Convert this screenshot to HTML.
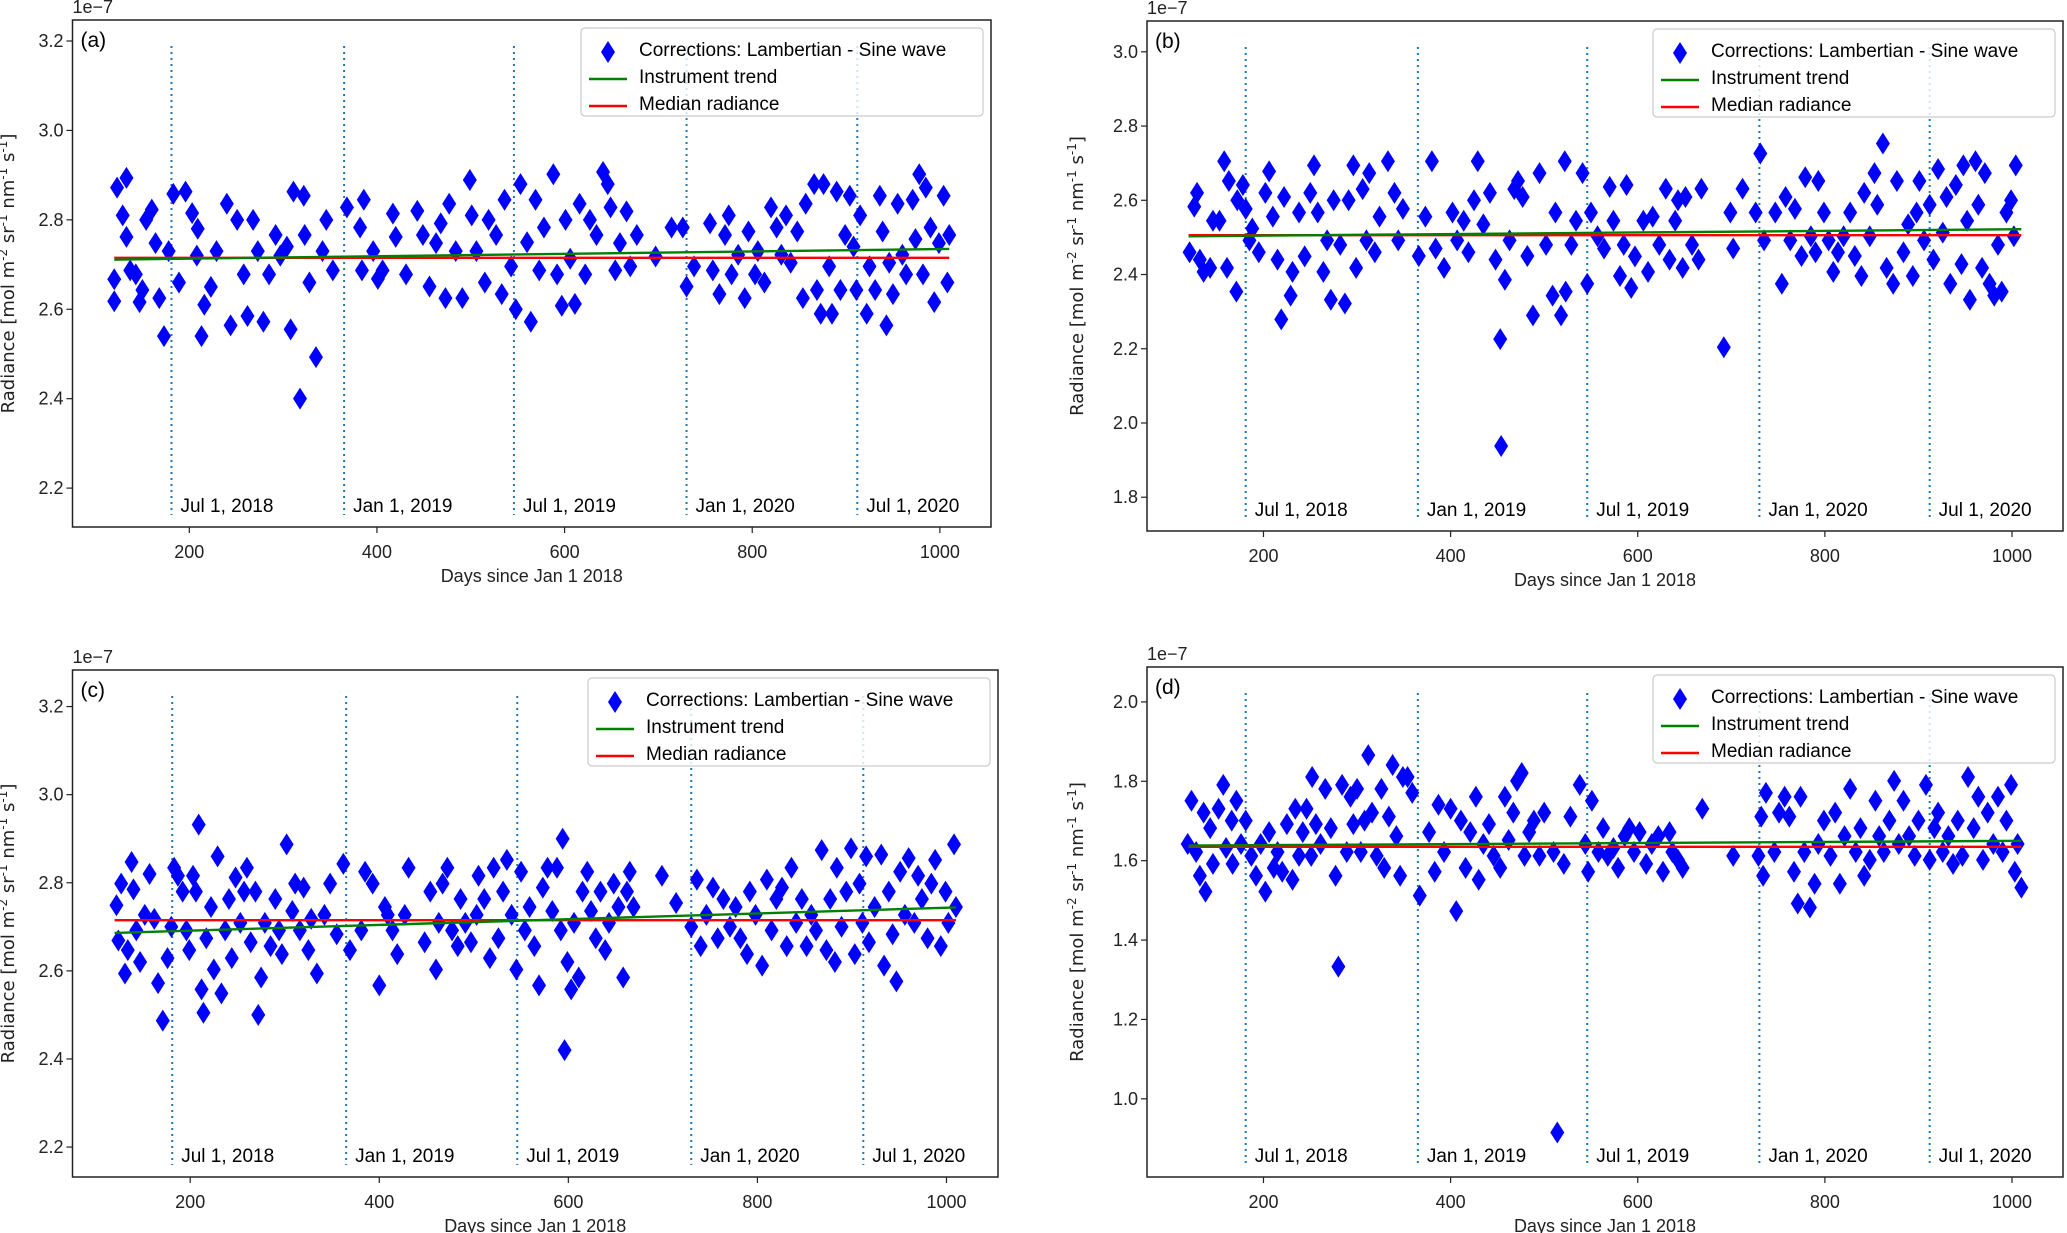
<!DOCTYPE html>
<html><head><meta charset="utf-8"><style>
html,body{margin:0;padding:0;background:#fff;}
svg{display:block;font-family:"Liberation Sans","DejaVu Sans",sans-serif;}
</style></head><body>
<svg id="fig" width="2067" height="1233" viewBox="0 0 2067 1233" xmlns="http://www.w3.org/2000/svg"></svg>
<script>
const xTicks=[200,400,600,800,1000];
const markerDays=[181,365,546,730,912];
const markerLabels=["Jul 1, 2018","Jan 1, 2019","Jul 1, 2019","Jan 1, 2020","Jul 1, 2020"];
const yTicksA=[2.2,2.4,2.6,2.8,3.0,3.2];
const yTicksB=[1.8,2.0,2.2,2.4,2.6,2.8,3.0];
const yTicksC=[2.2,2.4,2.6,2.8,3.0,3.2];
const yTicksD=[1.0,1.2,1.4,1.6,1.8,2.0];
const trendA=[2.711,2.735], medianA=[2.715,2.715];
const trendB=[2.503,2.522], medianB=[2.506,2.506];
const trendC=[2.686,2.744], medianC=[2.715,2.715];
const trendD=[1.638,1.650], medianD=[1.635,1.635];
const daysA=[120,120,123,133,129,133,137,143,147,150,154,160,164,168,173,178,183,189,196,203,208,209,216,213,223,229,240,244,251,258,262,268,273,279,285,292,297,304,308,311,318,322,323,328,335,342,346,353,368,382,384,386,396,401,406,417,420,431,443,449,456,463,468,473,477,484,491,499,501,506,515,519,527,533,536,543,548,553,560,564,569,573,578,588,592,597,601,606,611,616,622,627,634,641,646,649,654,659,666,670,677,697,714,726,730,738,755,758,765,771,775,778,785,792,796,803,806,813,820,826,831,836,841,848,854,857,866,869,873,876,882,885,890,894,899,904,908,911,915,922,925,931,936,939,943,946,950,955,960,964,971,974,978,982,985,990,994,999,1004,1008,1010];
const valsA=[2.667,2.618,2.872,2.894,2.81,2.762,2.687,2.678,2.616,2.643,2.80,2.823,2.748,2.625,2.54,2.73,2.858,2.66,2.863,2.815,2.72,2.78,2.61,2.54,2.65,2.73,2.836,2.564,2.80,2.678,2.585,2.80,2.73,2.572,2.678,2.766,2.72,2.74,2.555,2.863,2.40,2.854,2.766,2.66,2.493,2.73,2.80,2.687,2.828,2.783,2.687,2.845,2.73,2.668,2.687,2.814,2.762,2.678,2.82,2.766,2.651,2.748,2.792,2.625,2.836,2.73,2.625,2.889,2.81,2.73,2.66,2.80,2.766,2.634,2.845,2.696,2.60,2.88,2.75,2.572,2.845,2.687,2.783,2.902,2.678,2.608,2.80,2.713,2.612,2.836,2.678,2.80,2.766,2.907,2.88,2.828,2.687,2.748,2.819,2.696,2.766,2.718,2.783,2.783,2.651,2.696,2.792,2.687,2.634,2.766,2.81,2.678,2.722,2.625,2.774,2.678,2.73,2.66,2.828,2.783,2.722,2.81,2.704,2.774,2.625,2.836,2.88,2.643,2.59,2.88,2.696,2.59,2.863,2.643,2.766,2.854,2.74,2.643,2.81,2.59,2.696,2.643,2.854,2.774,2.564,2.704,2.634,2.836,2.722,2.678,2.845,2.757,2.902,2.678,2.872,2.783,2.616,2.748,2.854,2.66,2.766];
const daysB=[121,126,129,132,136,143,146,153,158,161,163,171,172,178,181,185,188,195,202,206,210,215,219,222,229,231,238,244,250,254,258,264,268,272,275,282,287,291,296,299,306,310,313,319,324,333,340,344,349,366,373,380,384,393,402,407,414,419,425,429,435,442,448,453,454,458,463,468,472,477,482,488,495,502,509,512,518,522,523,529,534,541,546,550,557,564,570,574,581,585,588,593,597,606,611,616,623,630,634,640,643,648,651,658,665,668,692,699,702,712,726,731,735,747,754,758,763,768,775,779,785,790,793,799,804,809,814,820,827,832,839,842,848,853,856,862,866,873,877,884,889,894,898,901,906,912,916,921,926,930,934,940,946,948,952,955,961,964,968,971,976,981,985,989,994,999,1002,1004];
const valsB=[2.46,2.583,2.62,2.44,2.407,2.418,2.545,2.545,2.705,2.418,2.652,2.354,2.6,2.641,2.577,2.492,2.524,2.46,2.62,2.678,2.556,2.44,2.279,2.609,2.343,2.407,2.567,2.449,2.62,2.694,2.567,2.407,2.492,2.332,2.6,2.48,2.322,2.6,2.694,2.418,2.63,2.492,2.673,2.46,2.556,2.705,2.62,2.492,2.577,2.45,2.556,2.705,2.47,2.418,2.567,2.492,2.545,2.46,2.6,2.705,2.535,2.62,2.44,2.226,1.938,2.386,2.492,2.63,2.652,2.609,2.45,2.29,2.673,2.48,2.343,2.567,2.29,2.705,2.354,2.48,2.545,2.673,2.375,2.567,2.503,2.47,2.636,2.545,2.396,2.48,2.641,2.364,2.449,2.545,2.407,2.556,2.48,2.631,2.44,2.545,2.6,2.418,2.609,2.48,2.44,2.631,2.204,2.567,2.47,2.631,2.567,2.726,2.492,2.567,2.375,2.609,2.492,2.577,2.45,2.662,2.503,2.46,2.652,2.567,2.492,2.407,2.46,2.503,2.567,2.45,2.396,2.62,2.503,2.673,2.588,2.753,2.418,2.375,2.652,2.46,2.535,2.396,2.567,2.652,2.492,2.588,2.44,2.684,2.513,2.609,2.375,2.641,2.428,2.694,2.545,2.332,2.705,2.588,2.418,2.673,2.375,2.343,2.48,2.354,2.567,2.6,2.503,2.694];
const daysC=[122,124,127,131,134,138,140,143,147,152,157,162,166,171,176,180,183,187,192,196,199,203,206,209,212,214,217,222,225,229,233,237,241,244,248,253,257,260,264,269,272,275,279,285,290,294,297,302,308,311,316,320,325,328,334,342,348,355,362,369,381,385,393,400,406,409,414,419,427,431,448,454,460,463,467,472,477,483,486,491,497,503,505,511,517,521,526,531,535,540,545,550,554,559,564,569,573,578,583,588,592,594,596,599,603,606,611,615,620,624,629,634,639,643,648,653,658,662,665,669,699,714,730,736,740,746,753,758,764,771,777,782,789,792,798,805,810,815,820,826,831,836,841,847,852,857,862,868,873,877,882,884,889,894,899,903,908,911,915,918,924,931,934,939,943,947,951,956,960,966,970,974,980,984,988,994,999,1002,1008,1010];
const valsC=[2.749,2.669,2.798,2.594,2.647,2.847,2.785,2.692,2.62,2.727,2.82,2.718,2.572,2.487,2.629,2.70,2.834,2.816,2.78,2.692,2.647,2.816,2.78,2.932,2.558,2.505,2.674,2.745,2.603,2.86,2.549,2.692,2.763,2.629,2.812,2.709,2.78,2.834,2.665,2.78,2.50,2.585,2.709,2.656,2.763,2.692,2.638,2.887,2.736,2.798,2.692,2.789,2.647,2.718,2.594,2.727,2.798,2.683,2.843,2.647,2.692,2.825,2.798,2.567,2.745,2.727,2.692,2.638,2.727,2.834,2.665,2.78,2.603,2.709,2.798,2.834,2.692,2.656,2.763,2.709,2.665,2.727,2.816,2.763,2.629,2.834,2.674,2.78,2.852,2.727,2.603,2.825,2.692,2.745,2.656,2.567,2.789,2.834,2.736,2.834,2.692,2.90,2.42,2.62,2.558,2.709,2.585,2.78,2.825,2.736,2.674,2.78,2.647,2.709,2.798,2.745,2.585,2.78,2.825,2.745,2.816,2.754,2.70,2.807,2.656,2.727,2.789,2.674,2.763,2.70,2.745,2.674,2.638,2.78,2.727,2.612,2.807,2.692,2.763,2.789,2.656,2.834,2.709,2.763,2.656,2.727,2.692,2.874,2.647,2.763,2.62,2.834,2.70,2.78,2.878,2.638,2.798,2.709,2.86,2.665,2.745,2.864,2.612,2.78,2.683,2.576,2.825,2.727,2.856,2.709,2.816,2.763,2.674,2.798,2.852,2.656,2.78,2.709,2.887,2.745];
const daysD=[119,123,128,132,136,138,143,146,152,157,160,166,167,171,176,181,187,192,197,202,206,211,215,220,225,231,234,238,242,246,251,252,256,261,266,272,277,280,284,289,293,296,300,304,308,312,316,321,326,329,334,338,342,346,349,354,359,367,377,383,387,393,400,406,411,416,421,427,430,435,441,446,453,458,462,467,471,476,479,484,489,495,500,510,514,521,528,538,544,547,551,558,563,568,574,579,586,591,596,602,609,615,622,627,634,637,643,648,669,702,729,732,734,737,746,751,757,762,767,771,774,778,784,789,793,799,806,811,816,821,827,833,838,842,848,854,858,863,869,874,879,884,890,896,900,908,912,917,921,926,932,937,942,947,953,959,964,969,974,980,985,990,994,999,1003,1006,1010];
const valsD=[1.642,1.751,1.622,1.562,1.721,1.522,1.682,1.592,1.731,1.791,1.632,1.701,1.592,1.751,1.642,1.701,1.612,1.562,1.642,1.522,1.672,1.582,1.622,1.572,1.692,1.552,1.731,1.612,1.672,1.731,1.612,1.811,1.692,1.642,1.781,1.682,1.562,1.333,1.791,1.622,1.761,1.692,1.781,1.622,1.701,1.866,1.721,1.612,1.781,1.582,1.711,1.841,1.662,1.562,1.811,1.811,1.771,1.512,1.672,1.572,1.741,1.622,1.731,1.473,1.701,1.582,1.672,1.761,1.552,1.642,1.692,1.612,1.582,1.761,1.652,1.721,1.801,1.821,1.612,1.672,1.701,1.612,1.721,1.622,0.915,1.592,1.711,1.791,1.642,1.572,1.751,1.622,1.682,1.612,1.632,1.582,1.662,1.682,1.622,1.672,1.592,1.642,1.662,1.572,1.672,1.622,1.602,1.582,1.731,1.612,1.612,1.711,1.562,1.771,1.622,1.721,1.761,1.711,1.572,1.492,1.761,1.622,1.482,1.542,1.642,1.701,1.612,1.721,1.542,1.662,1.781,1.622,1.682,1.562,1.602,1.751,1.662,1.622,1.701,1.801,1.642,1.751,1.662,1.612,1.701,1.791,1.602,1.682,1.721,1.622,1.662,1.592,1.701,1.612,1.811,1.682,1.761,1.602,1.721,1.642,1.761,1.622,1.701,1.791,1.572,1.642,1.532];

const NS="http://www.w3.org/2000/svg";
const svg=document.getElementById('fig');
function mk(tag,attrs,parent){const e=document.createElementNS(NS,tag);for(const k in attrs)e.setAttribute(k,attrs[k]);(parent||svg).appendChild(e);return e;}

const panels=[
 {id:'a',L:72.5,R:991,T:20,B:527,y0:2.113,y1:3.247,days:daysA,vals:valsA,ticks:yTicksA,trend:trendA,med:medianA,ylx:14},
 {id:'b',L:1147,R:2063,T:21,B:531,y0:1.709,y1:3.083,days:daysB,vals:valsB,ticks:yTicksB,trend:trendB,med:medianB,ylx:1083},
 {id:'c',L:72.5,R:998,T:670,B:1177,y0:2.132,y1:3.283,days:daysC,vals:valsC,ticks:yTicksC,trend:trendC,med:medianC,ylx:14},
 {id:'d',L:1147,R:2063,T:667,B:1177,y0:0.803,y1:2.088,days:daysD,vals:valsD,ticks:yTicksD,trend:trendD,med:medianD,ylx:1083}
];
const X0=75.5,X1=1054.5;

panels.forEach(p=>{
 const g=mk('g',{});
 
 
 const xs=d=>p.L+(d-X0)/(X1-X0)*(p.R-p.L);
 const ys=v=>p.B-(v-p.y0)/(p.y1-p.y0)*(p.B-p.T);
 markerDays.forEach((d,i)=>{
  const ln=mk('line',{x1:xs(d),x2:xs(d),y1:p.T+26,y2:p.B-12,stroke:'#1f77b4','stroke-width':2,'stroke-dasharray':'2,4'},g);
  
  
  const t=mk('text',{x:xs(d)+9,y:p.B-15,'font-size':19,fill:'#000'},g);
  t.textContent=markerLabels[i];
  
  
 });
 p.days.forEach((d,i)=>{
  const cx=xs(d),cy=ys(p.vals[i]);
  const m=mk('path',{d:`M${cx},${cy-11}L${cx+7},${cy}L${cx},${cy+11}L${cx-7},${cy}Z`,fill:'#0000ff'},g);
  
  
 });
 const md=mk('line',{x1:xs(120),x2:xs(1010),y1:ys(p.med[0]),y2:ys(p.med[1]),stroke:'#ff0000','stroke-width':2.4},g);
 
 
 const tr=mk('line',{x1:xs(120),x2:xs(1010),y1:ys(p.trend[0]),y2:ys(p.trend[1]),stroke:'#008000','stroke-width':2.4},g);
 
 
 const fr=mk('rect',{x:p.L,y:p.T,width:p.R-p.L,height:p.B-p.T,fill:'none',stroke:'#222','stroke-width':1.5},g);
 
 
 xTicks.forEach(v=>{
  mk('line',{x1:xs(v),x2:xs(v),y1:p.B,y2:p.B+6,stroke:'#222','stroke-width':1.2},g);
  const t=mk('text',{x:xs(v),y:p.B+31,'font-size':18,'text-anchor':'middle',fill:'#222'},g);
  t.textContent=String(v);
  
  
 });
 p.ticks.forEach(v=>{
  mk('line',{x1:p.L-6,x2:p.L,y1:ys(v),y2:ys(v),stroke:'#222','stroke-width':1.2},g);
  const t=mk('text',{x:p.L-9,y:ys(v)+6,'font-size':18,'text-anchor':'end',fill:'#222'},g);
  t.textContent=v.toFixed(1);
  
  
 });
 const ex=mk('text',{x:p.L,y:p.T-7,'font-size':18,fill:'#222'},g);
 ex.textContent='1e\u22127';
 
 
 const pl=mk('text',{x:p.L+8,y:p.T+27,'font-size':21,fill:'#000'},g);
 pl.textContent='('+p.id+')';
 
 
 const xl=mk('text',{x:(p.L+p.R)/2,y:p.B+55,'font-size':18,'text-anchor':'middle',fill:'#222'},g);
 xl.textContent='Days since Jan 1 2018';
 
 
 const cy=(p.T+p.B)/2;
 const yl=mk('text',{x:p.ylx,y:cy,'font-size':18,'text-anchor':'middle',fill:'#222',transform:`rotate(-90 ${p.ylx} ${cy})`,'font-family':'"DejaVu Sans",sans-serif'},g);
 yl.innerHTML='Radiance [mol m<tspan dy="-7" font-size="12">-2</tspan><tspan dy="7"> sr</tspan><tspan dy="-7" font-size="12">-1</tspan><tspan dy="7"> nm</tspan><tspan dy="-7" font-size="12">-1</tspan><tspan dy="7"> s</tspan><tspan dy="-7" font-size="12">-1</tspan><tspan dy="7">]</tspan>';
 
 
 const lx=p.R-410,ly=p.T+8;
 const lg=mk('g',{},g);
 
 
 mk('rect',{x:lx,y:ly,width:402,height:88,rx:4,fill:'rgba(255,255,255,0.8)',stroke:'#ccc','stroke-width':1.2},lg);
 const mx=lx+27;
 mk('path',{d:`M${mx},${ly+13}L${mx+7},${ly+24}L${mx},${ly+35}L${mx-7},${ly+24}Z`,fill:'#0000ff'},lg);
 mk('line',{x1:lx+8,x2:lx+46,y1:ly+51,y2:ly+51,stroke:'#008000','stroke-width':2.5},lg);
 mk('line',{x1:lx+8,x2:lx+46,y1:ly+78,y2:ly+78,stroke:'#ff0000','stroke-width':2.5},lg);
 [['Corrections: Lambertian - Sine wave',ly+31],['Instrument trend',ly+58],['Median radiance',ly+85]].forEach(([s,yy])=>{
  const t=mk('text',{x:lx+58,y:yy-3,'font-size':19,fill:'#000'},lg);
  t.textContent=s;
  
  
 });
});
</script>
</body></html>
